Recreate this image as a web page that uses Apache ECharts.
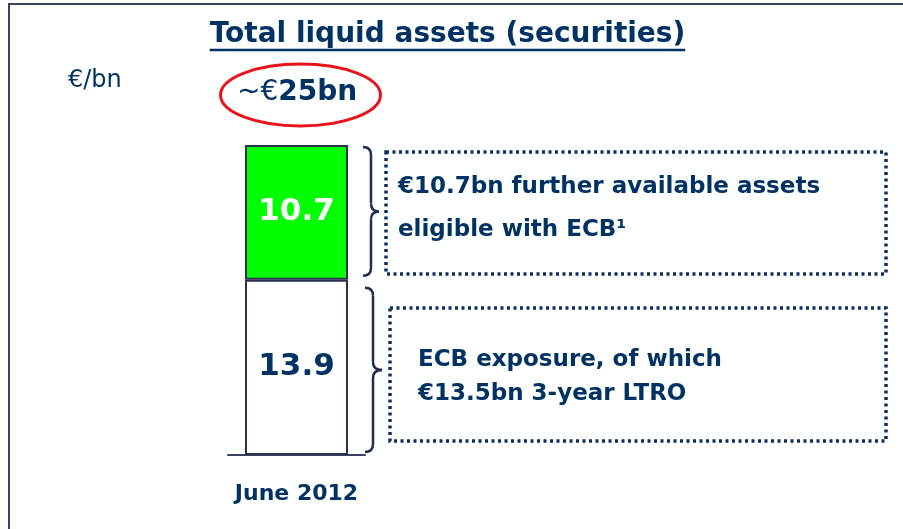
<!DOCTYPE html>
<html>
<head>
<meta charset="utf-8">
<script src="https://cdn.jsdelivr.net/npm/echarts@6/dist/echarts.min.js"></script>
<style>
  html, body { margin: 0; padding: 0; background: #fff; }
  #chart { width: 903px; height: 529px; }
</style>
</head>
<body>
<div id="chart"></div>
<script>
  // data
  const categories = ['June 2012'];
  const ecbExposure = [13.9];
  const furtherEligible = [10.7];
  const totalLabel = '25bn';
  const upperNote = ['€10.7bn further available assets', 'eligible with ECB¹'];
  const lowerNote = ['ECB exposure, of which', '€13.5bn 3-year LTRO'];

  const navy = '#003263';
  const edge = '#2b2f52';
  const font = '"DejaVu Sans", Verdana, sans-serif';

  const chart = echarts.init(document.getElementById('chart'));

  chart.setOption({
    animation: false,
    backgroundColor: '#fff',
    grid: { left: 228, right: 538, top: 145, bottom: 74 },
    xAxis: {
      type: 'category',
      data: categories,
      axisTick: { show: false },
      axisLine: { lineStyle: { color: '#3b4263', width: 2 } },
      axisLabel: { color: navy, fontFamily: font, fontWeight: 'bold', fontSize: 22, margin: 28 }
    },
    yAxis: { type: 'value', min: 0, max: 24.6, show: false, splitLine: { show: false } },
    series: [
      {
        name: 'ECB exposure',
        type: 'bar',
        stack: 'total',
        barWidth: 103,
        data: ecbExposure,
        itemStyle: { color: '#ffffff', borderColor: edge, borderWidth: 2 },
        label: { show: true, position: 'inside', color: navy, fontFamily: font, fontWeight: 'bold', fontSize: 31 }
      },
      {
        name: 'Further eligible',
        type: 'bar',
        stack: 'total',
        barWidth: 103,
        data: furtherEligible,
        itemStyle: { color: '#00ff00', borderColor: edge, borderWidth: 2 },
        label: { show: true, position: 'inside', color: '#ffffff', fontFamily: font, fontWeight: 'bold', fontSize: 31 }
      }
    ]
  });

  // braces follow the bar segments
  const cx = chart.convertToPixel({ gridIndex: 0 }, [0, 0])[0];
  const yBase = chart.convertToPixel({ gridIndex: 0 }, [0, 0])[1];
  const yMid = chart.convertToPixel({ gridIndex: 0 }, [0, ecbExposure[0]])[1];
  const yTop = chart.convertToPixel({ gridIndex: 0 }, [0, ecbExposure[0] + furtherEligible[0]])[1];
  const barRight = cx + 51.5;

  function brace(top, bottom, x0, x1, x2) {
    const m = (top + bottom) / 2, r = 8;
    const st = { fill: 'none', stroke: '#1f2d55', lineWidth: 2.5 };
    const q = (a, b, c, d, e, f) => ({ type: 'bezierCurve', shape: { x1: a, y1: b, cpx1: c, cpy1: d, x2: e, y2: f }, style: st });
    const l = (a, b, c, d) => ({ type: 'line', shape: { x1: a, y1: b, x2: c, y2: d }, style: st });
    return {
      type: 'group',
      children: [
        q(x0, top, x1, top, x1, top + r),
        l(x1, top + r, x1, m - r),
        q(x1, m - r, x1, m, x2, m),
        q(x2, m, x1, m, x1, m + r),
        l(x1, m + r, x1, bottom - r),
        q(x1, bottom - r, x1, bottom, x0, bottom)
      ]
    };
  }

  const ctx = document.createElement('canvas').getContext('2d');
  const titleText = 'Total liquid assets (securities)';
  ctx.font = 'bold 28px ' + font;
  const titleW = ctx.measureText(titleText).width;

  const dotted = { fill: 'none', stroke: '#0d2f5e', lineWidth: 3.5, lineDash: [3, 3.5] };
  const noteStyle = (t, x, y) => ({
    type: 'text', style: { text: t, x: x, y: y, fill: navy, font: 'bold 23px ' + font, verticalAlign: 'middle' }
  });

  chart.setOption({
    graphic: [
      // frame
      { type: 'line', shape: { x1: 8, y1: 4, x2: 903, y2: 4 }, style: { stroke: '#3b4263', lineWidth: 2 } },
      { type: 'line', shape: { x1: 9, y1: 4, x2: 9, y2: 529 }, style: { stroke: '#3b4263', lineWidth: 2 } },
      // title + underline
      { type: 'text', style: { text: titleText, x: 447.5, y: 35, fill: navy, font: 'bold 28px ' + font, align: 'center', verticalAlign: 'middle' } },
      { type: 'line', shape: { x1: 447.5 - titleW / 2, y1: 50, x2: 447.5 + titleW / 2, y2: 50 }, style: { stroke: navy, lineWidth: 2.5 } },
      // unit
      { type: 'text', style: { text: '€/bn', x: 68, y: 81, fill: navy, font: '24px ' + font, verticalAlign: 'middle' } },
      // total
      { type: 'ellipse', shape: { cx: 300.5, cy: 95, rx: 80, ry: 31 }, style: { fill: 'none', stroke: '#e8141b', lineWidth: 3 } },
      {
        type: 'text',
        style: {
          text: '{a|~€}{b|' + totalLabel + '}', x: 237, y: 93, verticalAlign: 'middle',
          rich: {
            a: { fill: navy, fontFamily: font, fontSize: 28 },
            b: { fill: navy, fontFamily: font, fontSize: 28, fontWeight: 'bold' }
          }
        }
      },
      // braces
      brace(yTop + 2, yMid - 4, barRight + 15, barRight + 23, barRight + 31),
      brace(yMid + 8, yBase - 3, barRight + 17, barRight + 25, barRight + 34),
      // note boxes
      { type: 'rect', shape: { x: 386, y: 152, width: 500, height: 122 }, style: dotted },
      { type: 'rect', shape: { x: 390, y: 308, width: 496, height: 133 }, style: dotted },
      noteStyle(upperNote[0], 398, 187),
      noteStyle(upperNote[1], 398, 230),
      noteStyle(lowerNote[0], 418, 360),
      noteStyle(lowerNote[1], 418, 394)
    ]
  });
</script>
</body>
</html>
